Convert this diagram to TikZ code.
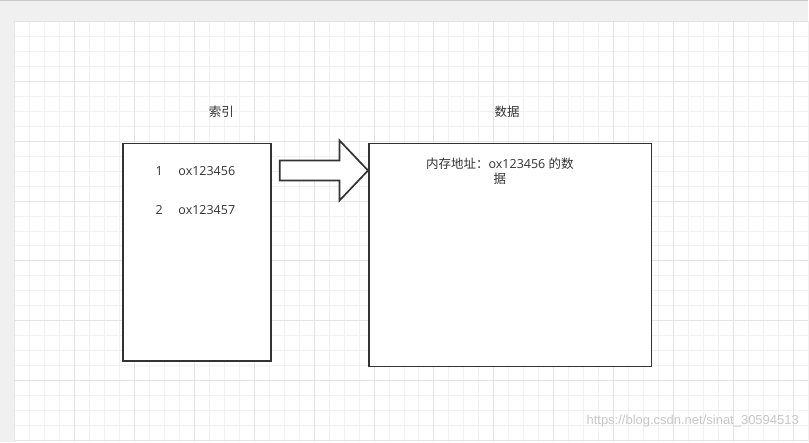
\documentclass[tikz,border=0pt]{standalone}
\usepackage{fontspec}
\setmainfont{Open Sans}
\newfontfamily\cjk{Noto Sans CJK SC}
\newfontfamily\markfont{Liberation Sans}
\usetikzlibrary{positioning}

\definecolor{pagegray}{HTML}{F0F0F0}
\definecolor{minorline}{HTML}{F1F1F1}
\definecolor{majorline}{HTML}{E4E4E4}
\definecolor{inkgray}{HTML}{333333}

\tikzset{
  box/.style={draw=inkgray, line width=1.7pt, fill=white, inner sep=0pt},
  label/.style={text=inkgray, font=\fontsize{12.5}{15.3}\selectfont, inner sep=0pt},
  blockarrow/.style={draw=inkgray, line width=1.7pt, fill=white, line join=miter}
}

\begin{document}
\begin{tikzpicture}[x=1pt, y=-1pt]
  % page and grid
  \fill[pagegray] (0,0) rectangle (809,443);
  \fill[black!22] (0,0) rectangle (809,1.5);
  \fill[white] (14.5,21.3) rectangle (809,443);
  \foreach \x in {0,...,53}
    \draw[minorline, line width=1pt] (14.5+15*\x,21.3) -- (14.5+15*\x,443);
  \foreach \y in {0,...,28}
    \draw[minorline, line width=1pt] (14.5,21.3+15*\y) -- (809,21.3+15*\y);
  \foreach \x in {0,...,13}
    \draw[majorline, line width=1pt] (14.5+60*\x,21.3) -- (14.5+60*\x,443);
  \foreach \y in {0,...,7}
    \draw[majorline, line width=1pt] (14.5,21.3+60*\y) -- (809,21.3+60*\y);
  \useasboundingbox (0,0) rectangle (809,443);

  % boxes
  \node (index) [box, minimum width=147.7pt, minimum height=218pt] at (197.2,252.7) {};
  \node (data) [box, minimum width=283pt, minimum height=223.3pt] at (510.8,255.3) {};

  % titles
  \node (indextitle) [label] at (221.7,112) {\cjk 索引};
  \node (datatitle) [label] at (507.7,112) {\cjk 数据};

  % index rows
  \foreach \n/\addr/\y in {1/ox123456/171.7, 2/ox123457/210.7} {
    \node (num\n) [label] at (159.3,\y) {\n};
    \node (addr\n) [label, anchor=west] at (178.5,\y) {\addr};
  }

  % data text
  \node (content) [label, align=center] at (500.5,171.6)
    {{\cjk 内存地址：}ox123456 {\cjk 的数}\\{\cjk 据}};

  % big arrow
  \draw[blockarrow] (280,160.7) -- (340,160.7) -- (340,140.7) -- (data.west |- 0,170.7)
    -- (340,200.7) -- (340,180.7) -- (280,180.7) -- cycle;

  % watermark
  \node (mark) [anchor=east, text=black!22, font=\markfont\fontsize{13}{15}\selectfont, inner sep=0pt]
    at (800,422) {https://blog.csdn.net/sinat\_30594513};
\end{tikzpicture}
\end{document}
